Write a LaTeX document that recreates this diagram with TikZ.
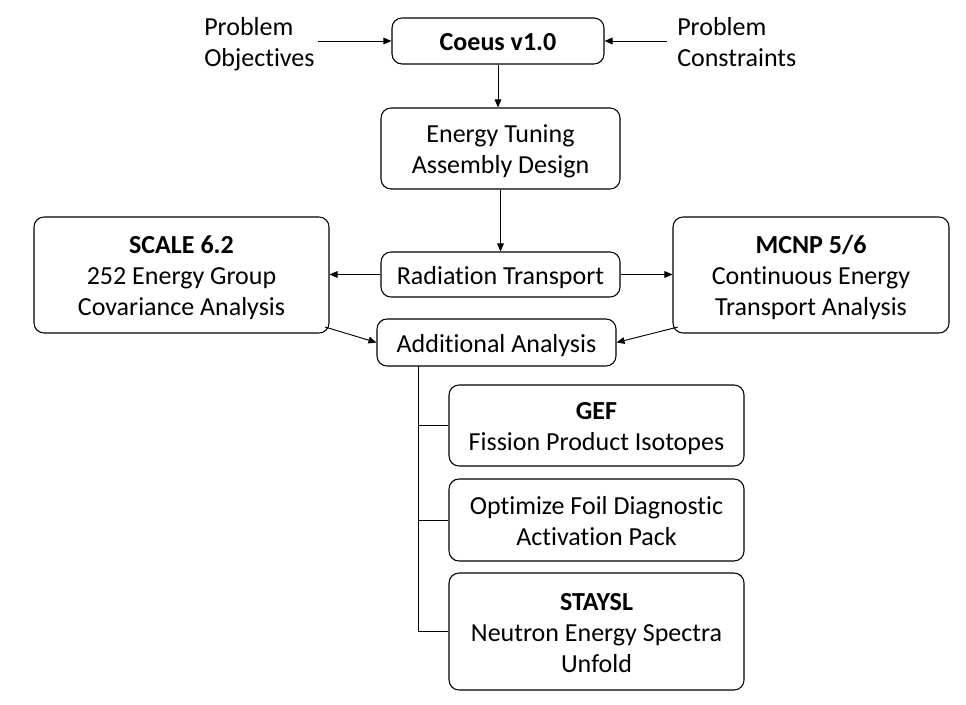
\documentclass[tikz,border=0pt]{standalone}
\usepackage{fontspec}
\setmainfont[Ligatures=NoCommon]{Carlito}
\usetikzlibrary{arrows.meta}
\newcommand\tzT{\rule{0pt}{0.99em}}
\newcommand\tzB{\rule[-0.25em]{0pt}{0pt}}
\begin{document}
\begin{tikzpicture}[x=0.75pt,y=-0.75pt,
  txt/.style={font=\fontsize{19.5}{23.25}\selectfont},
  box/.style={txt,draw,rounded corners=7.5pt,line width=0.8pt,align=center,inner sep=0pt},
  lbl/.style={txt,align=left,inner sep=0pt,anchor=west},
  arr/.style={-{Triangle[length=6pt,width=5pt]},line width=0.7pt},
  ln/.style={line width=0.7pt}]
\useasboundingbox (0,0) rectangle (966,705);
\node[box,minimum width=212*0.75pt,minimum height=46*0.75pt] (coeus) at (498,41) {\tzT\textbf{Coeus v1.0}\tzB};
\node[box,minimum width=239*0.75pt,minimum height=81*0.75pt] (etad) at (500.5,148.5) {\tzT Energy Tuning\\Assembly Design\tzB};
\node[box,minimum width=295*0.75pt,minimum height=116*0.75pt] (scale) at (181.5,275) {\tzT\textbf{SCALE 6.2}\\252 Energy Group\\Covariance Analysis\tzB};
\node[box,minimum width=239*0.75pt,minimum height=45*0.75pt] (rad) at (500.5,274.5) {\tzT Radiation Transport\tzB};
\node[box,minimum width=276*0.75pt,minimum height=116*0.75pt] (mcnp) at (811,275) {\tzT\textbf{MCNP 5/6}\\Continuous Energy\\Transport Analysis\tzB};
\node[box,minimum width=239*0.75pt,minimum height=47*0.75pt] (add) at (496.5,342.5) {\tzT Additional Analysis\tzB};
\node[box,minimum width=295*0.75pt,minimum height=81*0.75pt] (gef) at (596.5,425.5) {\tzT\textbf{GEF}\\Fission Product Isotopes\tzB};
\node[box,minimum width=295*0.75pt,minimum height=82*0.75pt] (opt) at (596.5,520) {\tzT Optimize Foil Diagnostic\\Activation Pack\tzB};
\node[box,minimum width=295*0.75pt,minimum height=117*0.75pt] (stay) at (596.5,631.5) {\tzT\textbf{STAYSL}\\Neutron Energy Spectra\\Unfold\tzB};
\node[lbl] (obj) at (204,41.5) {\tzT Problem\\Objectives\tzB};
\node[lbl] (con) at (677,41.5) {\tzT Problem\\Constraints\tzB};
\coordinate (objend) at (318,41);
\coordinate (conend) at (667,41);
\draw[arr] (objend) -- (coeus.west);
\draw[arr] (conend) -- (coeus.east);
\draw[arr] (coeus.south) -- (coeus.south|-etad.north);
\draw[arr] (etad.south) -- (rad.north);
\draw[arr] (rad.west) -- (scale.east|-rad.west);
\draw[arr] (rad.east) -- (mcnp.west|-rad.east);
\coordinate (sc) at (325,327);
\coordinate (mc) at (678,327);
\draw[arr] (sc) -- (add.west);
\draw[arr] (mc) -- (add.east);
\coordinate (trunk) at (418,366);
\coordinate (tend) at (418,631.5);
\draw[ln] (trunk) -- (tend) -- (stay.west);
\draw[ln] (trunk|-gef.west) -- (gef.west);
\draw[ln] (trunk|-opt.west) -- (opt.west);
\end{tikzpicture}
\end{document}
